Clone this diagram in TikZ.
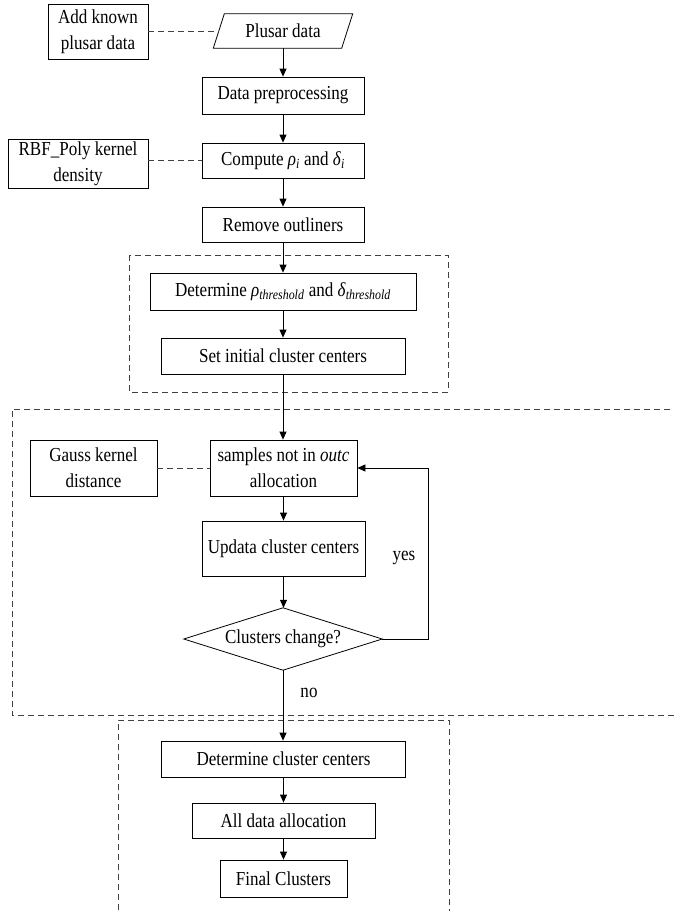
\documentclass[tikz,border=0pt]{standalone}
\usepackage{fontspec}
\setmainfont{Liberation Serif}[FakeStretch=0.86]
\usetikzlibrary{arrows.meta,calc}
\begin{document}
\begin{tikzpicture}[x=1pt,y=-1pt,
  every node/.style={font=\fontsize{19.8}{26}\selectfont, inner sep=0pt, align=center},
  box/.style={draw, line width=0.8pt, rectangle},
  arr/.style={draw, line width=0.8pt, -{Triangle[length=8pt,width=7pt]}},
  dline/.style={draw, line width=0.8pt, dash pattern=on 6pt off 4pt, black!75},
  frame/.style={draw, line width=0.8pt, dash pattern=on 6pt off 4pt, black!75}]
\useasboundingbox (0,0) rectangle (673,911);

% top column
\node[box, minimum width=100, minimum height=55] (add) at (98,31.5) {Add known\\plusar data};
\node[minimum width=128, minimum height=34] (data) at (283,31) {Plusar data};
\draw[line width=0.8pt] ([xshift=5.5pt]data.north west) -- ([xshift=5.5pt]data.north east)
  -- ([xshift=-5.5pt]data.south east) -- ([xshift=-5.5pt]data.south west) -- cycle;
\node[box, minimum width=162, minimum height=37] (prep) at (283,95.5) {Data preprocessing};
\node[box, minimum width=162, minimum height=35] (comp) at (283,160.5) {Compute \textit{ρ}\textsubscript{\textit{i}} and \textit{δ}\textsubscript{\textit{i}}};
\node[box, minimum width=140, minimum height=49] (rbf) at (78,163.5) {RBF\_Poly kernel\\density};
\node[box, minimum width=162, minimum height=35] (rem) at (283,224.5) {Remove outliners};

% first frame
\draw[frame] (129,255) rectangle (448,392);
\node[box, minimum width=266, minimum height=37] (det) at (283,291.5) {Determine \textit{ρ}\textsubscript{\textit{threshold}} and \textit{δ}\textsubscript{\textit{threshold}}};
\node[box, minimum width=244, minimum height=36] (init) at (283,356) {Set initial cluster centers};

% big frame
\draw[frame] (680,409) -- (12,409) -- (12,715) -- (680,715);
\node[box, minimum width=127, minimum height=56] (gauss) at (93.5,468) {Gauss kernel\\distance};
\node[box, minimum width=147, minimum height=56] (samp) at (283.5,468) {samples not in \textit{outc}\\allocation};
\node[box, minimum width=163, minimum height=55] (upd) at (283.5,548.5) {Updata cluster centers};
\node[minimum width=198, minimum height=62] (dec) at (283,639) {Clusters change?};
\draw[line width=0.8pt] (dec.west) -- (dec.north) -- (dec.east) -- (dec.south) -- cycle;
\coordinate (loopc) at (428,468);
\node (yes) at (404,558) {yes};
\node (no) at (309,693) {no};

% bottom frame
\draw[frame] (118,920) -- (118,720) -- (449,720) -- (449,920);
\node[box, minimum width=244, minimum height=36] (detc) at (283.5,759) {Determine cluster centers};
\node[box, minimum width=183, minimum height=35] (all) at (283.5,820.5) {All data allocation};
\node[box, minimum width=127, minimum height=37] (fin) at (283.5,878.5) {Final Clusters};

% connectors
\draw[dline] (data.west -| add.east) -- (data.west);
\draw[dline] (comp.west -| rbf.east) -- (comp.west);
\draw[dline] (gauss.east) -- (samp.west);
\draw[arr] (data.south) -- (prep.north);
\draw[arr] (prep.south) -- (comp.north);
\draw[arr] (comp.south) -- (rem.north);
\draw[arr] (rem.south) -- (det.north);
\draw[arr] (det.south) -- (init.north);
\draw[arr] (init.south) -- (init.south |- samp.north);
\draw[arr] (samp.south) -- (upd.north);
\draw[arr] (upd.south) -- (upd.south |- dec.north);
\draw[arr] (dec.east) -| (loopc) -- (samp.east);
\draw[arr] (dec.south) -- (dec.south |- detc.north);
\draw[arr] (detc.south) -- (all.north);
\draw[arr] (all.south) -- (fin.north);
\end{tikzpicture}
\end{document}
